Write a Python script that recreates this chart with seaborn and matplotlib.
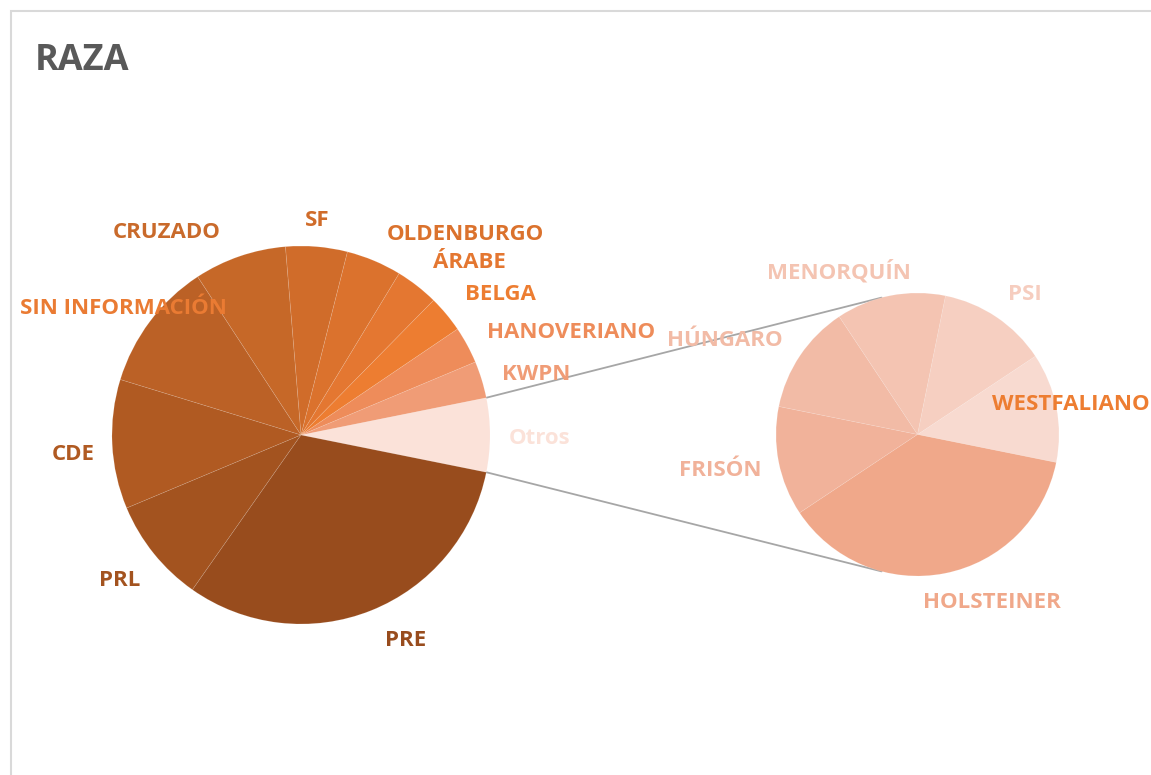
import numpy as np
import matplotlib.pyplot as plt
import matplotlib.patches as mpatches
import seaborn as sns

sns.set_theme(style='white')
plt.rcParams['font.family'] = ['Open Sans', 'DejaVu Sans']

# main pie, counter-clockwise starting with "Otros"
main_labels = ['Otros', 'KWPN', 'HANOVERIANO', 'BELGA', 'ÁRABE', 'OLDENBURGO',
               'SF', 'CRUZADO', 'SIN INFORMACIÓN', 'CDE', 'PRL', 'PRE']
main_values = [24, 12, 12, 12, 14, 18, 20, 30, 42, 42, 34, 120]

# breakdown of "Otros"
other_labels = ['WESTFALIANO', 'PSI', 'MENORQUÍN', 'HÚNGARO', 'FRISÓN', 'HOLSTEINER']
other_values = [3, 3, 3, 3, 3, 9]

main_colors = sns.color_palette(['#FBE2D9', '#F09C76', '#EE8C5A', '#ED7D31', '#E47731',
                                 '#DB722D', '#D06C2A', '#C66828', '#BB6126', '#B05A22',
                                 '#A3531F', '#984C1D'])
other_colors = sns.color_palette(['#F8DAD0', '#F6CFC1', '#F4C4B2', '#F2BBA6', '#F1B29A',
                                  '#F0A88A'])

main_label_colors = ['#FBE2D9', '#F09C76', '#EE8C5A', '#ED7D31', '#E47731', '#DB722D',
                     '#D06C2A', '#C96A2B', '#EA7B33', '#B05A22', '#A3531F', '#984C1D']
other_label_colors = ['#ED7D31', '#F6CDBF', '#F4C4B2', '#F2BBA6', '#F1B29A', '#F0A88A']

# label centres in picture pixels (x, y from top)
main_label_pos = [(540, 438), (536, 374), (571, 333), (500, 295), (469, 262), (465, 235),
                  (317, 221), (167, 233), (123, 308), (73, 454), (120, 580), (406, 640)]
other_label_pos = [(1071, 405), (1025, 294), (839, 272), (725, 341), (720, 470), (992, 603)]

W, H = 1151, 775
fig = plt.figure(figsize=(W / 100, H / 100), dpi=100)
ax = fig.add_axes([0, 0, 1, 1])

c1, r1 = (301, H - 435), 189
c2, r2 = (917.5, H - 434.5), 141.5

start1 = -180.0 * main_values[0] / sum(main_values)
w1, _ = ax.pie(main_values, colors=main_colors, startangle=start1, counterclock=True,
               center=c1, radius=r1,
               wedgeprops=dict(edgecolor=(1, 1, 1, 0.15), linewidth=0.5))
w2, _ = ax.pie(other_values, colors=other_colors, startangle=-11.4, counterclock=True,
               center=c2, radius=r2,
               wedgeprops=dict(edgecolor=(1, 1, 1, 0.15), linewidth=0.5))

# connector lines between "Otros" and the second pie
otros = w1[0]
for th1, th2 in [(otros.theta2, 104.7), (otros.theta1, 255.3)]:
    p1 = (c1[0] + r1 * np.cos(np.radians(th1)), c1[1] + r1 * np.sin(np.radians(th1)))
    p2 = (c2[0] + r2 * np.cos(np.radians(th2)), c2[1] + r2 * np.sin(np.radians(th2)))
    ax.plot([p1[0], p2[0]], [p1[1], p2[1]], color='#A6A6A6', lw=1.3, zorder=0)

for lab, (x, y), col in zip(main_labels, main_label_pos, main_label_colors):
    ax.text(x, H - y, lab, ha='center', va='center', fontsize=16, fontweight='bold', color=col)
for lab, (x, y), col in zip(other_labels, other_label_pos, other_label_colors):
    ax.text(x, H - y, lab, ha='center', va='center', fontsize=16, fontweight='bold', color=col)

ax.text(35, H - 70, 'RAZA', ha='left', va='baseline', fontsize=26, fontweight='bold',
        color='#595959')

ax.set_xlim(0, W)
ax.set_ylim(0, H)
ax.set_aspect('equal')
ax.axis('off')

# chart frame, cut off on the right and bottom
fig.patches.append(mpatches.Rectangle((11 / W, -0.1), 1.2, (H - 11) / H + 0.1,
                                      transform=fig.transFigure, fill=False,
                                      edgecolor='#D9D9D9', lw=1.5, zorder=-1))

fig.savefig('out.png', dpi=100, facecolor='white')
